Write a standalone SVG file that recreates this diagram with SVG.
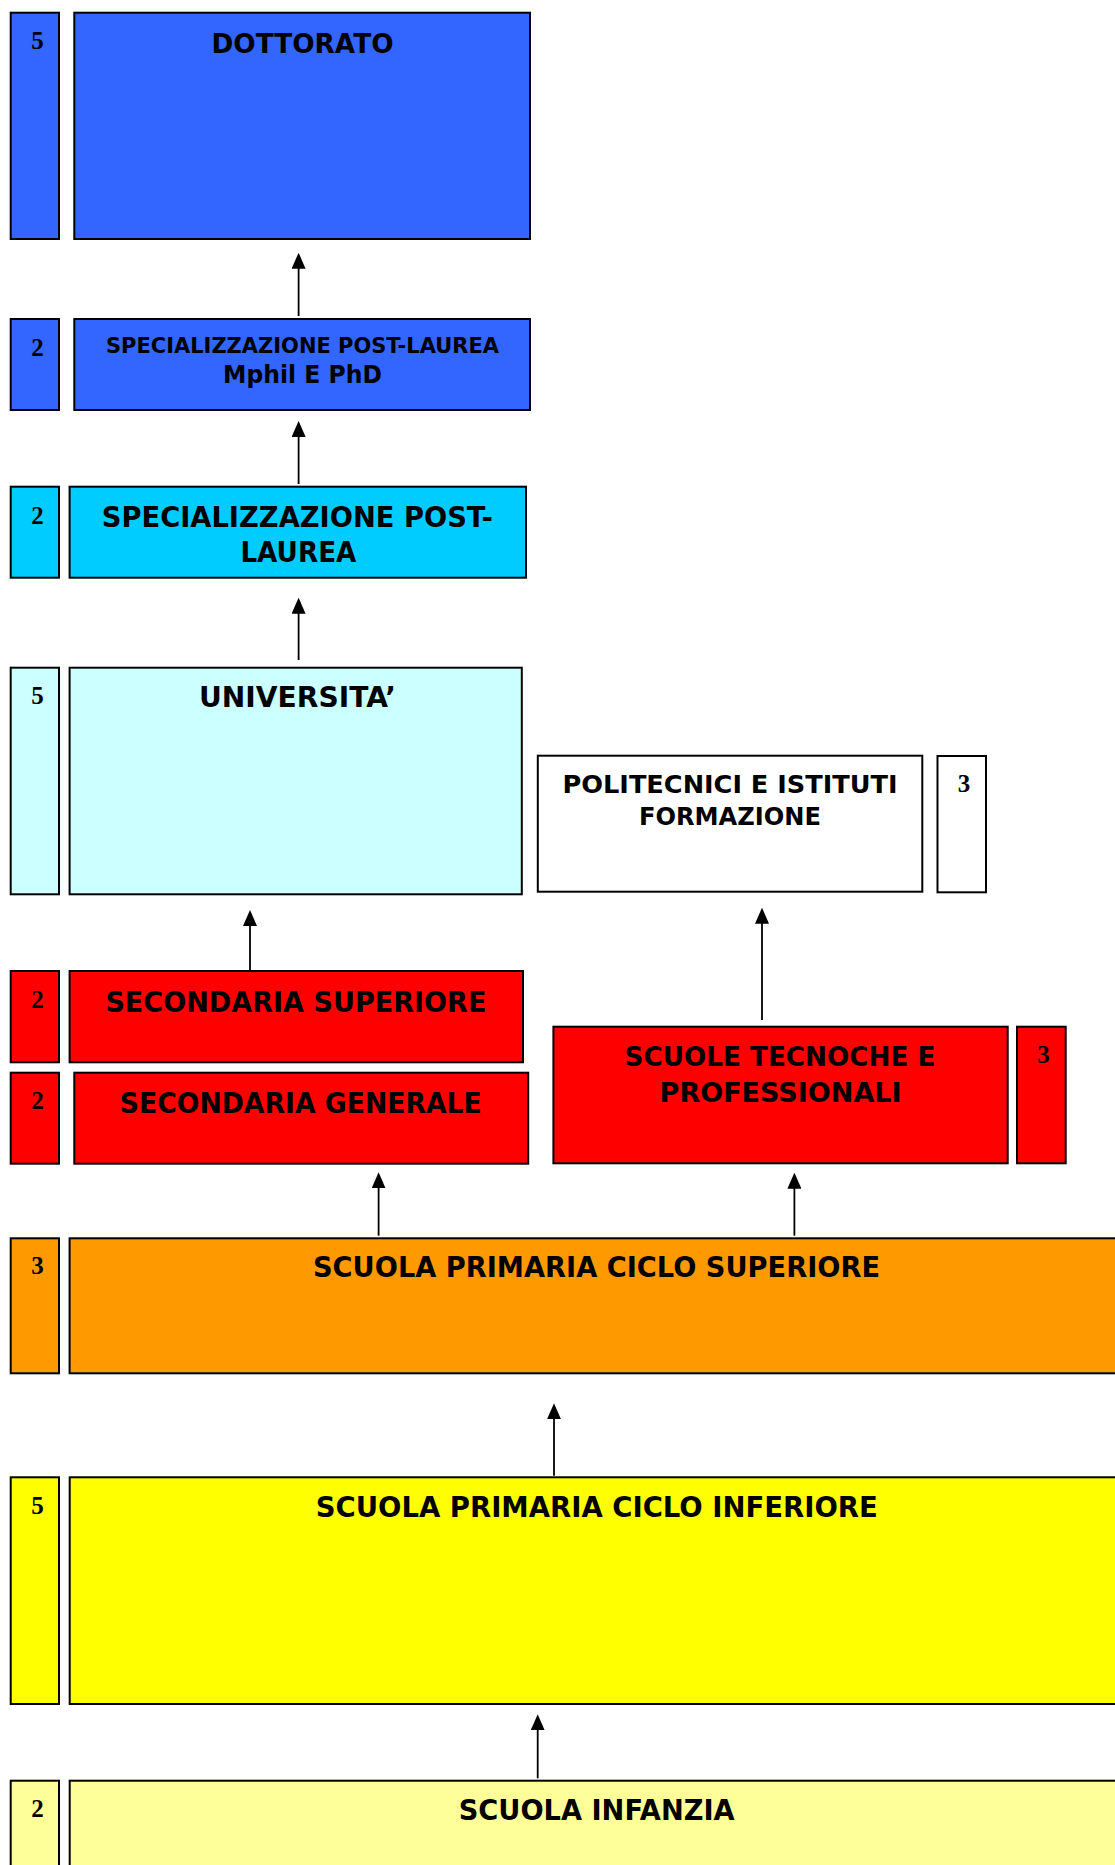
<svg xmlns="http://www.w3.org/2000/svg" width="1115" height="1865" viewBox="0 0 1115 1865">
<defs>
<style>
.b{stroke:#000;stroke-width:2}
.t{font-family:"DejaVu Sans","Liberation Sans",sans-serif;font-weight:bold;fill:#000;text-anchor:middle}
.n{font-family:"Liberation Serif","Times New Roman",serif;font-weight:bold;font-size:25px;fill:#000;text-anchor:middle}
.c{stroke:#000;stroke-width:1.8;fill:none;marker-end:url(#ah)}
</style>
<marker id="ah" viewBox="0 0 16 14" refX="8" refY="7" markerWidth="16" markerHeight="14" markerUnits="userSpaceOnUse" orient="auto">
<path d="M0,0 L16,7 L0,14 Z" fill="#000"/>
</marker>
</defs>
<rect width="1115" height="1865" fill="#fff"/>

<g id="dottorato">
<rect class="b" x="10.7" y="12.7" width="48.3" height="226.3" fill="#3366FF"/>
<text class="n" x="37.5" y="49">5</text>
<rect class="b" x="74.3" y="12.7" width="455.7" height="226.3" fill="#3366FF"/>
<text class="t" x="302.5" y="52.7" font-size="27" textLength="182" lengthAdjust="spacingAndGlyphs">DOTTORATO</text>
</g>

<g id="mphil">
<rect class="b" x="10.7" y="319" width="48.3" height="91" fill="#3366FF"/>
<text class="n" x="37.5" y="355.5">2</text>
<rect class="b" x="74.3" y="319" width="455.7" height="91" fill="#3366FF"/>
<text class="t" x="302.5" y="352.7" font-size="21" textLength="393" lengthAdjust="spacingAndGlyphs">SPECIALIZZAZIONE POST-LAUREA</text>
<text class="t" x="302.5" y="383.3" font-size="25" textLength="159" lengthAdjust="spacingAndGlyphs">Mphil E PhD</text>
</g>

<g id="specializzazione">
<rect class="b" x="10.7" y="486.7" width="48.3" height="91" fill="#00CCFF"/>
<text class="n" x="37.5" y="523.5">2</text>
<rect class="b" x="69.6" y="486.7" width="456.4" height="91" fill="#00CCFF"/>
<text class="t" x="297.3" y="527.3" font-size="29" textLength="391" lengthAdjust="spacingAndGlyphs">SPECIALIZZAZIONE POST-</text>
<text class="t" x="298.4" y="561.7" font-size="29" textLength="116" lengthAdjust="spacingAndGlyphs">LAUREA</text>
</g>

<g id="universita">
<rect class="b" x="10.7" y="667.7" width="48.3" height="226.6" fill="#CCFFFF"/>
<text class="n" x="37.5" y="704">5</text>
<rect class="b" x="69.6" y="667.7" width="452.2" height="226.6" fill="#CCFFFF"/>
<text class="t" x="297.5" y="707.3" font-size="28" textLength="197" lengthAdjust="spacingAndGlyphs">UNIVERSITA’</text>
</g>

<g id="politecnici">
<rect class="b" x="537.8" y="755.7" width="384.5" height="136" fill="#fff"/>
<text class="t" x="730" y="792.7" font-size="25" textLength="335" lengthAdjust="spacingAndGlyphs">POLITECNICI E ISTITUTI</text>
<text class="t" x="730" y="825" font-size="25" textLength="182" lengthAdjust="spacingAndGlyphs">FORMAZIONE</text>
<rect class="b" x="937.5" y="756" width="48.5" height="136.3" fill="#fff"/>
<text class="n" x="964" y="792">3</text>
</g>

<g id="secondaria-superiore">
<rect class="b" x="10.7" y="971" width="48.3" height="91.3" fill="#FF0000"/>
<text class="n" x="37.5" y="1007.5">2</text>
<rect class="b" x="69.6" y="971" width="453.4" height="91.3" fill="#FF0000"/>
<text class="t" x="295.9" y="1011.7" font-size="29" textLength="381" lengthAdjust="spacingAndGlyphs">SECONDARIA SUPERIORE</text>
</g>

<g id="secondaria-generale">
<rect class="b" x="10.7" y="1072.7" width="48.3" height="91" fill="#FF0000"/>
<text class="n" x="37.5" y="1109">2</text>
<rect class="b" x="74.3" y="1072.7" width="453.9" height="91" fill="#FF0000"/>
<text class="t" x="300.8" y="1112.7" font-size="27.5" textLength="362" lengthAdjust="spacingAndGlyphs">SECONDARIA GENERALE</text>
</g>

<g id="scuole-tecniche">
<rect class="b" x="553.4" y="1026.7" width="454.3" height="136.6" fill="#FF0000"/>
<text class="t" x="780" y="1065.7" font-size="26" textLength="311" lengthAdjust="spacingAndGlyphs">SCUOLE TECNOCHE E</text>
<text class="t" x="780.6" y="1102.3" font-size="26" textLength="242" lengthAdjust="spacingAndGlyphs">PROFESSIONALI</text>
<rect class="b" x="1017" y="1026.7" width="48.7" height="136.6" fill="#FF0000"/>
<text class="n" x="1043.6" y="1063">3</text>
</g>

<g id="primaria-superiore">
<rect class="b" x="10.7" y="1238.3" width="48.3" height="135" fill="#FF9900"/>
<text class="n" x="37.5" y="1274">3</text>
<rect class="b" x="69.6" y="1238.3" width="1055" height="135" fill="#FF9900"/>
<text class="t" x="596.5" y="1277.3" font-size="27.5" textLength="567" lengthAdjust="spacingAndGlyphs">SCUOLA PRIMARIA CICLO SUPERIORE</text>
</g>

<g id="primaria-inferiore">
<rect class="b" x="10.7" y="1477.3" width="48.3" height="226.7" fill="#FFFF00"/>
<text class="n" x="37.5" y="1514">5</text>
<rect class="b" x="69.7" y="1477.3" width="1055" height="226.7" fill="#FFFF00"/>
<text class="t" x="596.8" y="1517.3" font-size="27.5" textLength="562" lengthAdjust="spacingAndGlyphs">SCUOLA PRIMARIA CICLO INFERIORE</text>
</g>

<g id="infanzia">
<rect class="b" x="10.7" y="1780.7" width="48.3" height="120" fill="#FFFF99"/>
<text class="n" x="37.5" y="1817">2</text>
<rect class="b" x="69.7" y="1780.7" width="1055" height="120" fill="#FFFF99"/>
<text class="t" x="596.7" y="1820" font-size="27.5" textLength="276" lengthAdjust="spacingAndGlyphs">SCUOLA INFANZIA</text>
</g>

<g id="connectors">
<line class="c" x1="298.6" y1="316" x2="298.6" y2="260.7"/>
<line class="c" x1="298.6" y1="484" x2="298.6" y2="429"/>
<line class="c" x1="298.6" y1="660" x2="298.6" y2="605.7"/>
<line class="c" x1="762" y1="1020" x2="762" y2="915.7"/>
<line class="c" x1="250" y1="970.7" x2="250" y2="918"/>
<line class="c" x1="378.6" y1="1235.7" x2="378.6" y2="1180.3"/>
<line class="c" x1="794.4" y1="1235.7" x2="794.4" y2="1180.7"/>
<line class="c" x1="554" y1="1475.7" x2="554" y2="1411.3"/>
<line class="c" x1="537.7" y1="1778.3" x2="537.7" y2="1722.3"/>
</g>
</svg>
